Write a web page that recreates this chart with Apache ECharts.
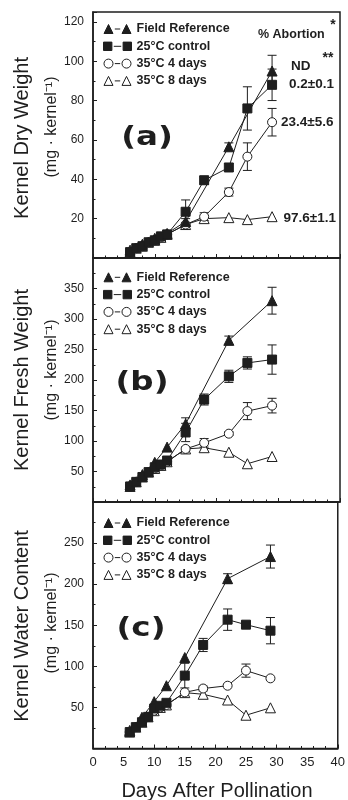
<!DOCTYPE html>
<html><head><meta charset="utf-8">
<script src="https://cdn.jsdelivr.net/npm/echarts/dist/echarts.min.js"></script>
<style>html,body{margin:0;padding:0;background:#fff}#c{width:348px;height:800px}</style>
</head><body><div id="c"></div>
<script>
// ---------- data ----------
const seriesNames = ['Field Reference', '25°C control', '35°C 4 days', '35°C 8 days'];
const days = [6, 7, 8, 9, 10, 11, 12, 15, 18, 22, 25, 29];
const fieldDays = [6, 8, 10, 12, 15, 22, 29];
const xTickLabels = [0, 5, 10, 15, 20, 25, 30, 35, 40];

// (a) Kernel dry weight
const fieldA = [4, 7, 10, 12.5, 18.5, 56.5, 95];
const fieldAErr = [0, 0, 0, 0, 1.5, 2, 8];
const ctrlA = [3, 5, 6, 8, 9, 11, 12, 23.5, 39.5, 46, 76, 88];
const ctrlAErr = [0, 0, 0, 0, 0, 0, 1, 6, 2, 2, 11, 8];
const d4A = [3, 5, 6, 8, 9, 10.5, 12, 17, 21, 33.5, 51.5, 69];
const d4AErr = [0, 0, 0, 0, 0, 0, 0, 1, 2, 2, 7, 7];
const d8A = [3, 5, 6, 8, 9, 10.5, 12, 17, 20, 20.5, 19.5, 21];
const d8AErr = [0, 0, 0, 0, 0, 0, 0, 0, 0, 0, 0, 0];
const abortionLabels = ['ND', '0.2±0.1', '23.4±5.6', '97.6±1.1'];

// (b) Kernel fresh weight
const fieldB = [28, 45, 65, 90, 128, 265, 330];
const fieldBErr = [0, 0, 0, 0, 10, 7, 22];
const ctrlB = [25.5, 33, 41, 49, 57, 61.5, 68, 114, 168, 206, 228, 233.5];
const ctrlBErr = [0, 0, 0, 0, 0, 0, 4, 15, 9, 10, 10, 24];
const d4B = [25.5, 33, 41, 49, 55, 60, 66, 87, 97, 112, 149, 158];
const d4BErr = [0, 0, 0, 0, 0, 0, 0, 3, 7, 3, 14, 12];
const d8B = [25.5, 33, 41, 49, 55, 60, 66, 87, 89, 81.6, 62.7, 74.6];
const d8BErr = [0, 0, 0, 0, 0, 0, 0, 0, 0, 0, 0, 0];

// (c) Kernel water content
const fieldC = [22, 38, 57, 76.4, 110.7, 206.7, 233.6];
const fieldCErr = [0, 0, 0, 0, 0, 6, 14];
const ctrlC = [20, 26, 32, 38.5, 48.7, 52, 55.6, 88.7, 126, 156.8, 150.7, 143.4];
const ctrlCErr = [0, 0, 0, 0, 0, 0, 3, 15, 8, 13, 4, 16];
const d4C = [20, 26, 32, 38.5, 46, 50, 53, 68.3, 73, 76.4, 94.8, 85.4];
const d4CErr = [0, 0, 0, 0, 0, 0, 0, 0, 3, 0, 8, 0];
const d8C = [20, 26, 32, 38.5, 46, 50, 53, 68, 66, 59, 40.5, 49.5];
const d8CErr = [0, 0, 0, 0, 0, 0, 0, 0, 0, 0, 0, 0];

const yTitles = ['Kernel Dry Weight', 'Kernel Fresh Weight', 'Kernel Water Content'];
const panelLetters = ['(a)', '(b)', '(c)'];
const unitText = '(mg · kernel⁻¹)';
const yMax = [125, 400, 300];
const yInterval = [20, 50, 50];

// ---------- layout / style ----------
const INK = '#1e1e1e';
const FONT = '"Liberation Sans", Arial, sans-serif';
const grids = [
  { left: 93, top: 12, width: 247, height: 246 },
  { left: 93, top: 258, width: 247, height: 244 },
  { left: 93, top: 502, width: 247, height: 246.5 }
];
const legendTops = [22.5, 270.8, 516.5];
const titleY = [138, 380, 626];
const unitY = [127, 370, 623];
const letterPos = [[147, 138], [142, 383], [141, 629]];

const iconTri = 'path://M0,10L5,0L10,10Z M12,5L18,5 M20,10L25,0L30,10Z';
const iconSq = 'path://M0,0.5L9,0.5L9,9.5L0,9.5Z M11,5L19,5 M21,0.5L30,0.5L30,9.5L21,9.5Z';
const iconCirc = 'path://M0,5A5,5,0,1,1,10,5A5,5,0,1,1,0,5Z M12,5L18,5 M20,5A5,5,0,1,1,30,5A5,5,0,1,1,20,5Z';

const filled = { color: INK, borderColor: INK, borderWidth: 1 };
const open = { color: '#fff', borderColor: INK, borderWidth: 1 };

function pairs(xs, ys) { return xs.map((x, i) => [x, ys[i]]); }
function errs(xs, ys, es) {
  const out = [];
  xs.forEach((x, i) => { if (es[i] > 0) out.push([x, ys[i] - es[i], ys[i] + es[i]]); });
  return out;
}
function withLabel(data, text, dist, off) {
  if (!text) return data;
  const last = data.length - 1;
  data[last] = {
    value: data[last],
    label: {
      show: true, formatter: text, position: 'right', distance: dist, offset: off,
      fontSize: 13.5, fontWeight: 'bold', color: INK, fontFamily: FONT
    }
  };
  return data;
}

const panelData = [
  [fieldA, fieldAErr, ctrlA, ctrlAErr, d4A, d4AErr, d8A, d8AErr],
  [fieldB, fieldBErr, ctrlB, ctrlBErr, d4B, d4BErr, d8B, d8BErr],
  [fieldC, fieldCErr, ctrlC, ctrlCErr, d4C, d4CErr, d8C, d8CErr]
];

const xAxes = [], yAxes = [], series = [], legends = [], graphics = [];

grids.forEach((g, i) => {
  xAxes.push({
    type: 'value', gridIndex: i, position: 'bottom', min: 0, max: 40, interval: 10,
    axisLine: { show: true, lineStyle: { color: INK, width: 1.5 } },
    axisTick: { show: true, inside: true, length: 4, lineStyle: { color: INK, width: 1 } },
    minorTick: { show: true, splitNumber: 5, length: 2.5, lineStyle: { color: INK, width: 1 } },
    axisLabel: { show: false },
    splitLine: { show: false }
  });
  yAxes.push({
    type: 'value', gridIndex: i, position: 'left', min: 0, max: yMax[i], interval: yInterval[i],
    axisLine: { show: true, lineStyle: { color: INK, width: 1.5 } },
    axisTick: { show: true, inside: true, length: 4, lineStyle: { color: INK, width: 1 } },
    minorTick: { show: true, splitNumber: 2, length: 2.5, lineStyle: { color: INK, width: 1 } },
    axisLabel: { showMinLabel: false, showMaxLabel: false, fontSize: 12, color: INK, fontFamily: FONT, margin: 9 },
    splitLine: { show: false }
  });
});
// tick labels for the bottom panel (every 5 days)
xAxes.push({
  type: 'value', gridIndex: 2, position: 'bottom', offset: 0, min: 0, max: 40, interval: 5,
  axisLine: { show: false }, axisTick: { show: false }, splitLine: { show: false },
  axisLabel: { fontSize: 13, color: INK, fontFamily: FONT, margin: 7,
    formatter: v => (xTickLabels.indexOf(v) >= 0 ? String(v) : '') }
});

panelData.forEach((p, i) => {
  const [field, fieldErr, ctrl, ctrlErr, d4, d4Err, d8, d8Err] = p;
  const lab = i === 0 ? abortionLabels : [null, null, null, null];
  const errData = [].concat(
    errs(fieldDays, field, fieldErr), errs(days, ctrl, ctrlErr),
    errs(days, d4, d4Err), errs(days, d8, d8Err));
  series.push({
    type: 'custom', name: 'err' + i, xAxisIndex: i, yAxisIndex: i, z: 1,
    data: errData, encode: { x: 0, y: [1, 2] }, silent: true,
    renderItem: function (params, api) {
      const x = api.value(0);
      const top = api.coord([x, api.value(2)]);
      const bot = api.coord([x, api.value(1)]);
      const w = 4.5;
      const st = { stroke: INK, lineWidth: 1 };
      return { type: 'group', children: [
        { type: 'line', shape: { x1: top[0], y1: top[1], x2: bot[0], y2: bot[1] }, style: st },
        { type: 'line', shape: { x1: top[0] - w, y1: top[1], x2: top[0] + w, y2: top[1] }, style: st },
        { type: 'line', shape: { x1: bot[0] - w, y1: bot[1], x2: bot[0] + w, y2: bot[1] }, style: st }
      ] };
    }
  });
  const common = { type: 'line', xAxisIndex: i, yAxisIndex: i, z: 3, showAllSymbol: true,
    lineStyle: { color: INK, width: 1 }, emphasis: { disabled: true }, animation: false };
  series.push(Object.assign({}, common, { name: seriesNames[3], symbol: 'triangle', symbolSize: 10,
    itemStyle: open, data: withLabel(pairs(days, d8), lab[3], 6, [0, 1.5]) }));
  series.push(Object.assign({}, common, { name: seriesNames[2], symbol: 'circle', symbolSize: 9,
    itemStyle: open, data: withLabel(pairs(days, d4), lab[2], 4, [0, 0.5]) }));
  series.push(Object.assign({}, common, { name: seriesNames[0], symbol: 'triangle', symbolSize: 10,
    itemStyle: filled, data: withLabel(pairs(fieldDays, field), lab[0], 13.5, [0, -5]) }));
  series.push(Object.assign({}, common, { name: seriesNames[1], symbol: 'rect', symbolSize: 9,
    itemStyle: filled, data: withLabel(pairs(days, ctrl), lab[1], 12, [0, -1]) }));

  legends.push({
    orient: 'vertical', left: 103, top: legendTops[i], padding: 0,
    itemWidth: 28, itemHeight: 9, itemGap: 4.3, selectedMode: false,
    textStyle: { fontSize: 12.5, fontWeight: 'bold', color: INK, fontFamily: FONT, lineHeight: 13 },
    data: [
      { name: seriesNames[0], icon: iconTri, itemStyle: filled },
      { name: seriesNames[1], icon: iconSq, itemStyle: filled },
      { name: seriesNames[2], icon: iconCirc, itemStyle: open },
      { name: seriesNames[3], icon: iconTri, itemStyle: open }
    ]
  });

  graphics.push({ type: 'text', x: 22, y: titleY[i], rotation: Math.PI / 2, silent: true,
    style: { text: yTitles[i], fontSize: 20, fontFamily: FONT, fill: INK,
      textAlign: 'center', textVerticalAlign: 'middle', align: 'center', verticalAlign: 'middle' } });
  graphics.push({ type: 'text', x: 52, y: unitY[i], rotation: Math.PI / 2, silent: true,
    style: { text: unitText, fontSize: 16, fontFamily: FONT, fill: INK,
      textAlign: 'center', textVerticalAlign: 'middle', align: 'center', verticalAlign: 'middle' } });
  graphics.push({ type: 'text', x: letterPos[i][0], y: letterPos[i][1], scaleX: 1.25, silent: true,
    style: { text: panelLetters[i], fontSize: 26, fontWeight: 'bold', fontFamily: '"DejaVu Sans", sans-serif', fill: INK,
      textAlign: 'center', textVerticalAlign: 'middle', align: 'center', verticalAlign: 'middle' } });
});

graphics.push({ type: 'text', x: 258, y: 35, silent: true,
  style: { text: '% Abortion', fontSize: 12.5, fontWeight: 'bold', fontFamily: FONT, fill: INK,
    textAlign: 'left', textVerticalAlign: 'middle', align: 'left', verticalAlign: 'middle' } });
graphics.push({ type: 'text', x: 333, y: 25, silent: true,
  style: { text: '*', fontSize: 14, fontWeight: 'bold', fontFamily: FONT, fill: INK,
    textAlign: 'center', textVerticalAlign: 'middle', align: 'center', verticalAlign: 'middle' } });
graphics.push({ type: 'text', x: 328, y: 58, silent: true,
  style: { text: '**', fontSize: 14, fontWeight: 'bold', fontFamily: FONT, fill: INK,
    textAlign: 'center', textVerticalAlign: 'middle', align: 'center', verticalAlign: 'middle' } });
graphics.push({ type: 'text', x: 217, y: 791, silent: true,
  style: { text: 'Days After Pollination', fontSize: 20, fontFamily: FONT, fill: INK,
    textAlign: 'center', textVerticalAlign: 'middle', align: 'center', verticalAlign: 'middle' } });

const chart = echarts.init(document.getElementById('c'), null, { renderer: 'canvas' });
chart.setOption({
  animation: false,
  backgroundColor: '#fff',
  grid: grids.map(g => Object.assign({ show: true, borderColor: INK, borderWidth: 1.5, containLabel: false }, g)),
  xAxis: xAxes,
  yAxis: yAxes,
  legend: legends,
  series: series,
  graphic: graphics
});
</script></body></html>
